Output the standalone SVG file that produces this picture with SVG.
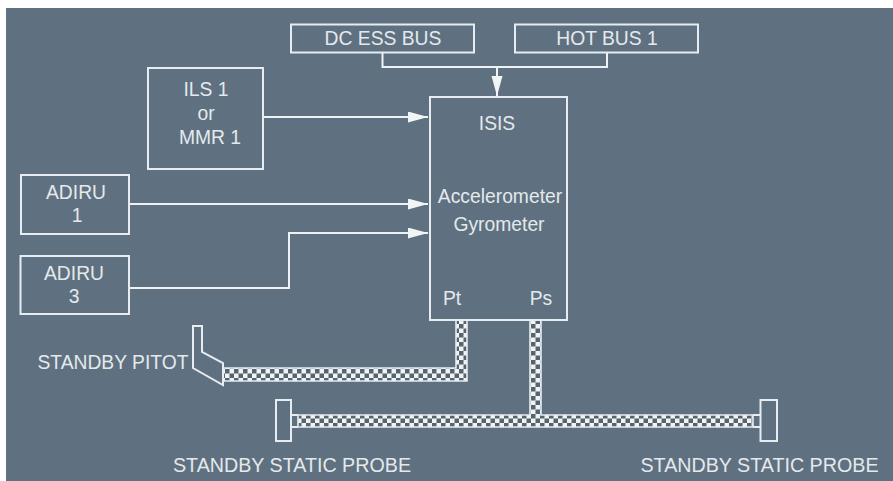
<svg xmlns="http://www.w3.org/2000/svg" width="893" height="481" viewBox="0 0 893 481">
<style>
.b{fill:none;stroke:#e6ecef;stroke-width:2}
.c{fill:none;stroke:#eef2f4;stroke-width:2}
.p{fill:url(#chk);stroke:#e6ecef;stroke-width:1.600}
text{font-family:"Liberation Sans",Arial,sans-serif;font-size:19.300px;fill:#e4e9ec;text-anchor:middle}
</style>
<defs>
<pattern id="chk" width="9" height="9" patternUnits="userSpaceOnUse">
<rect width="9" height="9" fill="#f0f3f4"/>
<rect width="4.500" height="4.500" fill="#56646f"/>
<rect x="4.500" y="4.500" width="4.500" height="4.500" fill="#56646f"/>
</pattern>
<marker id="ah" markerUnits="userSpaceOnUse" markerWidth="22" markerHeight="12" refX="20" refY="5.500" orient="auto">
<path d="M0 0L20 5.500L0 11Z" fill="#f2f5f6"/>
</marker>
</defs>
<rect width="893" height="481" fill="#ffffff"/>
<rect x="6" y="8" width="887" height="473" fill="#5f7180"/>
<g id="connectors">
<path class="c" d="M382.500 52V67H607V52"/>
<path class="c" marker-end="url(#ah)" d="M497 67V96"/>
<path class="c" marker-end="url(#ah)" d="M263 117H428"/>
<path class="c" marker-end="url(#ah)" d="M129 204H428"/>
<path class="c" marker-end="url(#ah)" d="M129 288H289V233H428"/>
<path class="p" d="M223 368H456V320H467V381H223Z"/>
<path class="p" d="M298 415H530V320H541V415H753V427H298Z"/>
</g>
<g id="dc-ess-bus"><rect class="b" x="291" y="24.500" width="183" height="28"/><text x="383" y="45">DC ESS BUS</text></g>
<g id="hot-bus-1"><rect class="b" x="515" y="24.500" width="183" height="28"/><text x="607" y="45">HOT BUS 1</text></g>
<g id="ils-1"><rect class="b" x="148" y="68" width="115" height="101"/><text x="206" y="96">ILS 1</text><text x="206" y="120">or</text><text x="210" y="144">MMR 1</text></g>
<g id="adiru-1"><rect class="b" x="21" y="175" width="108" height="59"/><text x="76" y="199">ADIRU</text><text x="77" y="222">1</text></g>
<g id="adiru-3"><rect class="b" x="20.500" y="256" width="108.500" height="58"/><text x="74" y="280">ADIRU</text><text x="74" y="303">3</text></g>
<g id="isis"><rect class="b" x="430" y="97" width="137" height="223"/><text x="497" y="130">ISIS</text><text x="500" y="203">Accelerometer</text><text x="499" y="231">Gyrometer</text><text x="452" y="305">Pt</text><text x="541" y="305">Ps</text></g>
<g id="standby-pitot"><path class="b" d="M193 326H202V352L223 363V385L193 368Z"/><text x="113" y="369">STANDBY PITOT</text></g>
<g id="static-probe-left"><path class="b" d="M276 400H291V441H276ZM291 415H298M291 427H298"/><text x="292" y="472" style="font-size:19.700px">STANDBY STATIC PROBE</text></g>
<g id="static-probe-right"><path class="b" d="M760.500 400H777V441H760.500ZM753 415H760.500M753 427H760.500"/><text x="759.500" y="472" style="font-size:19.700px">STANDBY STATIC PROBE</text></g>
</svg>
